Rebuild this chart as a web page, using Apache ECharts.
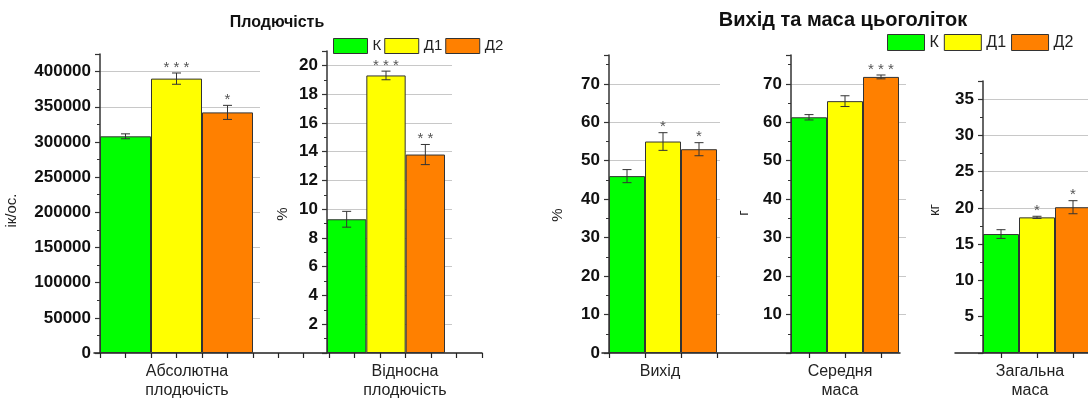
<!DOCTYPE html>
<html><head><meta charset="utf-8">
<script src="https://cdn.jsdelivr.net/npm/echarts@6/dist/echarts.min.js"></script>
<style>html,body{margin:0;padding:0;background:#fff}#c{width:1088px;height:398px}</style>
</head><body><div id="c"></div>
<script>
// ---- data ----
const groups = ['Абсолютна\nплодючість', 'Відносна\nплодючість', 'Вихід', 'Середня\nмаса', 'Загальна\nмаса'];
const seriesNames = ['К', 'Д1', 'Д2'];
const valK  = [308000, 9.3, 46.0, 61.3, 16.4];
const valD1 = [390000, 19.3, 55.0, 65.5, 18.7];
const valD2 = [342000, 13.8, 53.0, 71.8, 20.1];
const errK  = [3500, 0.55, 1.7, 0.7, 0.6];
const errD1 = [8000, 0.3, 2.3, 1.4, 0.15];
const errD2 = [10000, 0.7, 1.7, 0.5, 0.9];
const starsK  = ['', '', '', '', ''];
const starsD1 = ['***', '***', '*', '', '*'];
const starsD2 = ['*', '**', '*', '***', '*'];
const yMax = [425000, 21, 77.5, 77.5, 37.5];
const yInterval = [50000, 2, 10, 10, 5];
const yNames = ['ік/ос.', '%', '%', 'г', 'кг'];
const titles = ['Плодючість', 'Вихід та маса цьоголіток'];

// ---- style / layout ----
const FONT = '"Liberation Sans", Arial, Helvetica, sans-serif';
const colors = ['#00ff00', '#ffff00', '#ff8000'];
const values = [valK, valD1, valD2];
const errs = [errK, errD1, errD2];
const starSets = [starsK, starsD1, starsD2];
const BOTTOM = 353;
const layout = [
  {left: 100, barW: 153, frameW: 160, top: 54, zeroLabel: true,  nameGap: 81, nameShift: 7,  ticks: 'none',    labelShift: 10.5},
  {left: 327, barW: 118, frameW: 125, top: 51, zeroLabel: false, nameGap: 37, nameShift: 12, ticks: 'none',    labelShift: 19},
  {left: 609, barW: 108, frameW: 111, top: 55, zeroLabel: true,  nameGap: 44, nameShift: 11, ticks: 'edges',   labelShift: -3},
  {left: 791, barW: 108, frameW: 115, top: 55, zeroLabel: false, nameGap: 40, nameShift: 9,  ticks: 'centers', labelShift: -5},
  {left: 983, barW: 108, frameW: 110, top: 81, zeroLabel: false, nameGap: 41, nameShift: -7, ticks: 'centers', labelShift: -7}
];

const grid = [], xAxis = [], yAxis = [], series = [];
function addGrid(left, width, top) {
  grid.push({left: left, width: width, top: top, height: BOTTOM - top, outerBoundsMode: 'none', containLabel: false});
  return grid.length - 1;
}
function hiddenY(gi, max, interval) {
  yAxis.push({type: 'value', gridIndex: gi, show: false, min: 0, max: max, interval: interval});
  return yAxis.length - 1;
}

// background x-axis lines
function bgAxis(left, width, top, cats, ticks) {
  const gi = addGrid(left, width, top);
  xAxis.push({type: 'category', gridIndex: gi, data: cats, position: 'bottom',
    axisLine: {show: true, lineStyle: {color: '#222', width: 1.5}},
    axisTick: {show: ticks, interval: 0, length: 5, lineStyle: {color: '#222', width: 1.2}},
    axisLabel: {show: false}, splitLine: {show: false}});
  hiddenY(gi, 1, 1);
}
bgAxis(100, 382, 54, new Array(15).fill(''), true);
bgAxis(94, 6, 54, [''], false);
bgAxis(602, 298, 55, [''], false);
bgAxis(955, 140, 81, [''], false);

layout.forEach(function (L, gi) {
  // frame grid: visible y axis + split lines
  const fg = addGrid(L.left, L.frameW, L.top);
  xAxis.push({type: 'category', gridIndex: fg, data: [''], show: false});
  const s = L.nameShift;
  yAxis.push({
    type: 'value', gridIndex: fg, min: 0, max: yMax[gi], interval: yInterval[gi],
    name: yNames[gi], nameLocation: 'middle', nameRotate: 90, nameGap: L.nameGap,
    nameTextStyle: {fontSize: 15, color: '#222', fontFamily: FONT,
      padding: s >= 0 ? [0, 2 * s, 0, 0] : [0, 0, 0, -2 * s]},
    axisLine: {show: true, lineStyle: {color: '#333', width: 1.5}},
    axisTick: {show: true, length: 5, lineStyle: {color: '#333', width: 1.2}},
    minorTick: {show: true, splitNumber: 2, length: 3, lineStyle: {color: '#333', width: 1}},
    splitLine: {show: true, showMinLine: false, showMaxLine: false, lineStyle: {color: '#c8c8c8', width: 1}},
    axisLabel: {showMinLabel: L.zeroLabel, showMaxLabel: false, fontSize: 17, fontWeight: 'bold',
      color: '#111', fontFamily: FONT, margin: 9,
      formatter: function (v) { return (v % yInterval[gi] === 0) ? String(v) : ''; }}
  });

  // bar grid
  const bg = addGrid(L.left, L.barW, L.top);
  const sh = L.labelShift;
  xAxis.push({type: 'category', gridIndex: bg, data: [groups[gi]], position: 'bottom',
    axisLine: {show: false}, axisTick: {show: false}, splitLine: {show: false},
    axisLabel: {show: true, interval: 0, fontSize: 16, lineHeight: 19, color: '#222', fontFamily: FONT,
      margin: 9, padding: sh >= 0 ? [0, 0, 0, 2 * sh] : [0, -2 * sh, 0, 0]}});
  const bx = xAxis.length - 1;
  if (L.ticks !== 'none') {
    xAxis.push({type: 'category', gridIndex: bg, data: ['', '', ''], position: 'bottom',
      axisLine: {show: false}, axisLabel: {show: false}, splitLine: {show: false},
      axisTick: {show: true, interval: 0, length: 5, alignWithLabel: L.ticks === 'centers',
        lineStyle: {color: '#222', width: 1.2}}});
  }
  const by = hiddenY(bg, yMax[gi], yInterval[gi]);

  seriesNames.forEach(function (nm, si) {
    series.push({type: 'bar', name: nm, xAxisIndex: bx, yAxisIndex: by,
      data: [values[si][gi]], barGap: '0%', barCategoryGap: '0%',
      itemStyle: {color: colors[si], borderColor: '#333', borderWidth: 1}});
  });

  series.push({
    type: 'custom', xAxisIndex: bx, yAxisIndex: by, z: 5, silent: true,
    encode: {x: 0, y: 1},
    data: seriesNames.map(function (nm, si) { return [0, values[si][gi], errs[si][gi], si]; }),
    renderItem: function (params, api) {
      const v = api.value(1), e = api.value(2), bi = api.value(3);
      const base = api.coord([0, v]);
      const band = api.size([1, 0])[0];
      const x = base[0] - band / 2 + band * (2 * bi + 1) / 6;
      const yTop = api.coord([0, v + e])[1];
      const yBot = api.coord([0, v - e])[1];
      const cap = 4.5;
      const st = {stroke: '#333', lineWidth: 1};
      const children = [
        {type: 'line', shape: {x1: x, y1: yTop, x2: x, y2: yBot}, style: st},
        {type: 'line', shape: {x1: x - cap, y1: yTop, x2: x + cap, y2: yTop}, style: st},
        {type: 'line', shape: {x1: x - cap, y1: yBot, x2: x + cap, y2: yBot}, style: st}
      ];
      const stars = starSets[bi][gi];
      if (stars) {
        children.push({type: 'text', style: {x: x, y: yTop + 2, text: stars.split('').join(' '),
          align: 'center', verticalAlign: 'bottom', fill: '#555', font: '15px ' + FONT}});
      }
      return {type: 'group', children: children};
    }
  });
});

const legendBase = {data: seriesNames, icon: 'rect', padding: 0, selectedMode: false,
  itemStyle: {borderColor: '#333', borderWidth: 1}};
const option = {
  animation: false,
  backgroundColor: '#fff',
  title: [
    {text: titles[0], left: 277, top: 15, textAlign: 'center', padding: 0,
      textStyle: {fontSize: 16, fontWeight: 'bold', color: '#111', fontFamily: FONT}},
    {text: titles[1], left: 843, top: 10, textAlign: 'center', padding: 0,
      textStyle: {fontSize: 20, fontWeight: 'bold', color: '#111', fontFamily: FONT}}
  ],
  legend: [
    Object.assign({}, legendBase, {left: 333, top: 38, itemWidth: 34, itemHeight: 15, itemGap: 3,
      textStyle: {fontSize: 15, color: '#222', fontFamily: FONT}}),
    Object.assign({}, legendBase, {left: 887, top: 34, itemWidth: 37, itemHeight: 16, itemGap: 5,
      textStyle: {fontSize: 16, color: '#222', fontFamily: FONT}})
  ],
  grid: grid, xAxis: xAxis, yAxis: yAxis, series: series
};
const chart = echarts.init(document.getElementById('c'), null, {renderer: 'canvas'});
chart.setOption(option);
</script>
</body></html>
